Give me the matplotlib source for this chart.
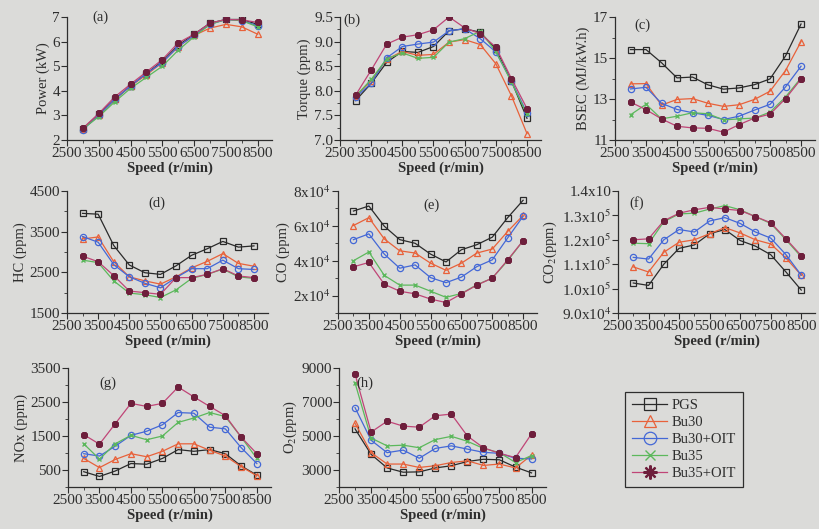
import matplotlib.pyplot as plt
from matplotlib.lines import Line2D
from matplotlib.ticker import MultipleLocator

plt.rcParams['font.family'] = ['Liberation Serif', 'DejaVu Serif']
plt.rcParams['mathtext.fontset'] = 'stix'

# engine speed, r/min
speed = [3000, 3500, 4000, 4500, 5000, 5500, 6000, 6500, 7000, 7500, 8000, 8500]
fuels = ['PGS', 'Bu30', 'Bu30+OIT', 'Bu35', 'Bu35+OIT']

# (a) power, kW
power = {
    'PGS':      [2.45, 3.05, 3.65, 4.2, 4.7, 5.2, 5.85, 6.3, 6.75, 6.9, 6.9, 6.7],
    'Bu30':     [2.45, 3.0, 3.65, 4.2, 4.65, 5.15, 5.8, 6.25, 6.55, 6.7, 6.6, 6.3],
    'Bu30+OIT': [2.42, 3.0, 3.65, 4.2, 4.7, 5.15, 5.8, 6.25, 6.7, 6.9, 6.85, 6.65],
    'Bu35':     [2.45, 2.95, 3.55, 4.1, 4.55, 5.0, 5.65, 6.2, 6.7, 6.9, 6.85, 6.6],
    'Bu35+OIT': [2.48, 3.08, 3.75, 4.27, 4.77, 5.27, 5.95, 6.3, 6.75, 6.9, 6.88, 6.78],
}

# (b) torque
torque = {
    'PGS':      [7.8, 8.15, 8.58, 8.8, 8.78, 8.9, 9.22, 9.26, 9.19, 8.85, 8.2, 7.44],
    'Bu30':     [7.89, 8.2, 8.64, 8.8, 8.72, 8.74, 8.99, 9.04, 8.94, 8.55, 7.9, 7.13],
    'Bu30+OIT': [7.87, 8.15, 8.67, 8.9, 8.95, 8.99, 9.22, 9.26, 9.06, 8.79, 8.2, 7.55],
    'Bu35':     [7.89, 8.23, 8.65, 8.77, 8.66, 8.68, 8.99, 9.06, 9.21, 8.8, 8.18, 7.52],
    'Bu35+OIT': [7.91, 8.42, 8.95, 9.09, 9.14, 9.24, 9.5, 9.28, 9.16, 8.89, 8.25, 7.64],
}

# (c) BSEC, MJ/kW.h
bsec = {
    'PGS':      [15.41, 15.41, 14.77, 14.03, 14.07, 13.69, 13.48, 13.54, 13.7, 13.98, 15.1, 16.66],
    'Bu30':     [13.74, 13.75, 12.7, 12.98, 13.02, 12.79, 12.64, 12.72, 12.98, 13.38, 14.39, 15.8],
    'Bu30+OIT': [13.49, 13.57, 12.79, 12.49, 12.33, 12.2, 12.0, 12.16, 12.46, 12.74, 13.59, 14.6],
    'Bu35':     [12.23, 12.74, 12.03, 12.16, 12.33, 12.28, 11.98, 12.03, 12.07, 12.36, 13.1, 14.03],
    'Bu35+OIT': [12.85, 12.48, 12.03, 11.67, 11.59, 11.57, 11.38, 11.75, 12.07, 12.26, 13.02, 13.97],
}

# (d) HC, ppm
hc = {
    'PGS':      [3950, 3930, 3160, 2680, 2490, 2450, 2660, 2920, 3080, 3260, 3120, 3150],
    'Bu30':     [3320, 3370, 2760, 2390, 2290, 2210, 2390, 2610, 2770, 2960, 2720, 2650],
    'Bu30+OIT': [3380, 3240, 2690, 2390, 2230, 2120, 2370, 2590, 2590, 2800, 2590, 2570],
    'Bu35':     [2800, 2740, 2290, 1990, 1950, 1880, 2070, 2350, 2450, 2580, 2390, 2350],
    'Bu35+OIT': [2900, 2760, 2420, 2040, 2000, 1960, 2370, 2370, 2450, 2590, 2410, 2370],
}

# (e) CO, ppm
co = {
    'PGS':      [68500, 71400, 59800, 52100, 50000, 43800, 39300, 46300, 49200, 53500, 64700, 74700],
    'Bu30':     [60200, 64700, 52500, 45700, 44400, 38600, 34500, 38600, 44400, 46700, 56800, 66000],
    'Bu30+OIT': [52100, 55400, 43800, 35700, 37600, 30300, 27400, 30600, 36600, 40500, 53100, 65500],
    'Bu35':     [40000, 45000, 31600, 26000, 26000, 22500, 19000, 21200, 26200, 30000, 40000, 51500],
    'Bu35+OIT': [36500, 39000, 26500, 22500, 21000, 18000, 16000, 21000, 26000, 30000, 40500, 51500],
}

# (f) CO2, x10^5 ppm
co2 = {
    'PGS':      [1.023, 1.013, 1.10, 1.165, 1.179, 1.225, 1.242, 1.197, 1.174, 1.139, 1.068, 0.994],
    'Bu30':     [1.089, 1.068, 1.149, 1.19, 1.2, 1.225, 1.25, 1.228, 1.2, 1.183, 1.125, 1.055],
    'Bu30+OIT': [1.128, 1.121, 1.2, 1.242, 1.232, 1.277, 1.291, 1.267, 1.232, 1.207, 1.139, 1.055],
    'Bu35':     [1.186, 1.184, 1.274, 1.306, 1.309, 1.326, 1.34, 1.323, 1.295, 1.267, 1.2, 1.13],
    'Bu35+OIT': [1.2, 1.204, 1.278, 1.309, 1.323, 1.333, 1.326, 1.32, 1.295, 1.27, 1.204, 1.135],
}

# (g) NOx, ppm
nox = {
    'PGS':      [450, 310, 470, 690, 670, 840, 1100, 1050, 1100, 980, 620, 350],
    'Bu30':     [840, 570, 810, 980, 890, 1050, 1270, 1270, 1080, 910, 600, 330],
    'Bu30+OIT': [980, 910, 1200, 1520, 1640, 1830, 2190, 2170, 1760, 1710, 1160, 690],
    'Bu35':     [1270, 820, 1270, 1520, 1390, 1500, 1900, 2030, 2190, 2070, 1470, 840],
    'Bu35+OIT': [1540, 1260, 1860, 2460, 2370, 2460, 2940, 2650, 2370, 2100, 1470, 980],
}

# (h) O2, ppm
o2 = {
    'PGS':      [5420, 3920, 3120, 2870, 2890, 3120, 3250, 3500, 3630, 3600, 3170, 2830],
    'Bu30':     [5750, 4020, 3350, 3350, 3150, 3250, 3440, 3540, 3270, 3350, 3120, 3880],
    'Bu30+OIT': [6670, 4750, 4020, 4170, 3690, 4270, 4420, 4230, 4040, 3980, 3690, 3650],
    'Bu35':     [8120, 4880, 4420, 4460, 4310, 4790, 4980, 4690, 4270, 4020, 3440, 3850],
    'Bu35+OIT': [8650, 5230, 5870, 5580, 5520, 6190, 6290, 5000, 4310, 3980, 3730, 5130],
}

bg = '#dbdbd9'
ink = '#2e2e2e'

styles = {
    'PGS':      dict(color='#2a2a2a', marker='s', ms=4, mfc='none', mew=0.9),
    'Bu30':     dict(color='#e8613a', marker='^', ms=4.5, mfc='none', mew=0.9),
    'Bu30+OIT': dict(color='#4468d6', marker='o', ms=4.5, mfc='none', mew=0.9),
    'Bu35':     dict(color='#5cb85c', marker='x', ms=3.5, mew=1.0),
    'Bu35+OIT': dict(color='#c04577', marker=(8, 2, 0), ms=5, mec='#6e1f3c', mew=1.6),
}

# panel: data, y label, limits, major ticks, tick labels, minor step, tag, tag position (px)
panels = [
    (power, 'Power (kW)', (2, 7), [2, 3, 4, 5, 6, 7], None, None, '(a)', (100, 17)),
    (torque, 'Torque (ppm)', (7.0, 9.5), [7.0, 7.5, 8.0, 8.5, 9.0, 9.5],
     ['7.0', '7.5', '8.0', '8.5', '9.0', '9.5'], 0.25, '(b)', (352, 20)),
    (bsec, 'BSEC (MJ/kW.h)', (11, 17), [11, 13, 15, 17], None, 1, '(c)', (642, 25)),
    (hc, 'HC (ppm)', (1500, 4500), [1500, 2500, 3500, 4500], None, 500, '(d)', (157, 203)),
    (co, 'CO (ppm)', (10000, 80000), [20000, 40000, 60000, 80000],
     ['2x10$^4$', '4x10$^4$', '6x10$^4$', '8x10$^4$'], 10000, '(e)', (432, 205)),
    (co2, 'CO$_2$(ppm)', (0.9, 1.4), [0.9, 1.0, 1.1, 1.2, 1.3, 1.4],
     ['9.0x10$^4$', '1.0x10$^5$', '1.1x10$^5$', '1.2x10$^5$', '1.3x10$^5$', '1.4x10'],
     None, '(f)', (637, 203)),
    (nox, 'NOx (ppm)', (0, 3500), [500, 1500, 2500, 3500], None, 500, '(g)', (108, 383)),
    (o2, 'O$_2$(ppm)', (2000, 9000), [3000, 5000, 7000, 9000], None, 1000, '(h)', (365, 383)),
]

W, H = 820, 529
fig = plt.figure(figsize=(8.2, 5.29), dpi=100, facecolor=bg)

# left edge and width of each panel, px
boxes_x = [(67, 205), (340, 201), (615, 200),
           (67, 201), (338, 199), (618, 197),
           (68, 203), (339, 207)]
rows = [(17, 140), (191, 313), (368, 487)]

for i, (data, ylabel, ylim, yticks, ylabels, minor, tag, tagpos) in enumerate(panels):
    top, bottom = rows[i // 3]
    left, width = boxes_x[i]
    ax = fig.add_axes([left / W, 1 - bottom / H, width / W, (bottom - top) / H])
    ax.set_facecolor('none')
    for f in fuels:
        ax.plot(speed, data[f], lw=0.9, label=f, **styles[f])

    ax.set_xlim(2500, 8950)
    ax.set_xticks(range(2500, 9000, 1000))
    ax.xaxis.set_minor_locator(MultipleLocator(500))
    ax.set_ylim(*ylim)
    ax.set_yticks(yticks)
    if ylabels:
        ax.set_yticklabels(ylabels)
    if minor:
        ax.yaxis.set_minor_locator(MultipleLocator(minor))

    for side in ['top', 'right']:
        ax.spines[side].set_visible(False)
    for side in ['left', 'bottom']:
        ax.spines[side].set_color(ink)
        ax.spines[side].set_linewidth(0.9)
    ax.tick_params(which='both', direction='out', colors=ink, labelsize=11, pad=1)
    ax.tick_params(which='major', length=4)
    ax.tick_params(which='minor', length=2.5)
    ax.set_xlabel('Speed (r/min)', fontsize=10.5, color=ink, fontweight='bold', labelpad=1)
    ax.set_ylabel(ylabel, fontsize=10.5, color=ink, labelpad=2)

    fig.text(tagpos[0] / W, 1 - tagpos[1] / H, tag, ha='center', va='center',
             fontsize=10.5, color=ink)

# legend sits in the empty ninth slot
handles = []
for f in fuels:
    st = dict(styles[f])
    st['ms'] = st['ms'] * 2.0
    handles.append(Line2D([], [], lw=0.9, **st))
leg = fig.legend(handles, fuels, loc='upper left',
                 bbox_to_anchor=(625 / W, 1 - 392 / H), borderaxespad=0,
                 fontsize=10.5, frameon=True, fancybox=False, facecolor=bg,
                 edgecolor=ink, framealpha=1, handlelength=2.4,
                 labelspacing=0.25, borderpad=0.5, handletextpad=0.3)
leg.get_frame().set_linewidth(0.9)
for t in leg.get_texts():
    t.set_color(ink)

fig.savefig('out.png', dpi=100, facecolor=bg)
